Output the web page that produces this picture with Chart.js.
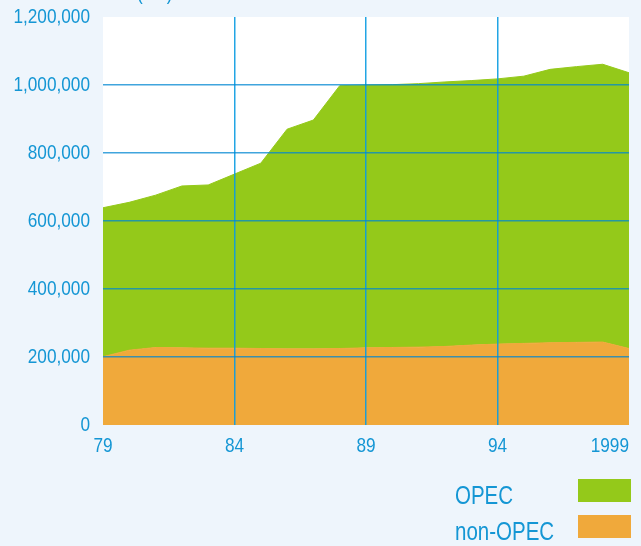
<!DOCTYPE html>
<html><head><meta charset="utf-8">
<script src="https://cdn.jsdelivr.net/npm/chart.js@4/dist/chart.umd.min.js"></script>
<style>
html,body{margin:0;padding:0;background:#EEF5FC;}
#wrap{position:relative;width:641px;height:546px;overflow:hidden;}
canvas{position:absolute;left:0;top:0;}
.txt{position:absolute;white-space:nowrap;color:#1496d4;font-family:'Liberation Sans',Arial,sans-serif;line-height:1;transform:scaleX(0.82);transform-origin:0 0;}
.box{position:absolute;width:53px;height:23px;}
</style>
</head><body>
<div id="wrap">
<canvas id="c" width="641" height="546"></canvas>
<div class="txt" id="unit" style="left:137px;top:-18px;font-size:21px;">(b/d)</div>
<div id="legend"></div>
</div>
<script>
// ---- data ----
const categories = [1979,1980,1981,1982,1983,1984,1985,1986,1987,1988,1989,1990,1991,1992,1993,1994,1995,1996,1997,1998,1999];
const xTickLabels = ['79','84','89','94','1999'];
const nonOpec = [201000,220000,228000,227000,226000,226000,225000,224000,224000,225000,227000,228000,229000,231000,235000,238000,240000,242000,243000,244000,225000];
const opec = [438000,435000,448000,476000,480000,512000,545000,646000,673000,773000,773000,773000,775000,778000,778000,780000,786000,804000,811000,817000,811000];
const seriesNames = ['non-OPEC','OPEC'];
const yTicks = [0,200000,400000,600000,800000,1000000,1200000];

const BLUE = '#1496d4';
const GREEN = '#94C91A';
const ORANGE = '#F0A93B';
const FONT = {family:"'Liberation Sans',Arial,sans-serif", size:21};
const NARROW = 0.82;

const plotBg = {
  id:'plotBg',
  beforeDraw(chart){
    const a = chart.chartArea, ctx = chart.ctx;
    ctx.save(); ctx.fillStyle='#ffffff';
    ctx.fillRect(a.left,a.top,a.right-a.left,a.bottom-a.top);
    ctx.restore();
    const items = chart.scales.x.getLabelItems();
    if (items && items.length) items[0].options.textAlign = 'center';
  }
};

// condensed text rendering (the original uses a narrow face)
const canvas = document.getElementById('c');
const c2d = canvas.getContext('2d');
const origFill = c2d.fillText;
c2d.fillText = function(text, x, y, maxWidth){
  this.save();
  this.translate(x, y);
  this.scale(NARROW, 1);
  origFill.call(this, text, 0, 0);
  this.restore();
};

const chart = new Chart(canvas, {
  type:'line',
  data:{
    labels: categories,
    datasets:[
      {label:seriesNames[0], data:nonOpec, backgroundColor:ORANGE, borderColor:ORANGE, borderWidth:1, fill:'origin', pointRadius:0, tension:0},
      {label:seriesNames[1], data:opec, backgroundColor:GREEN, borderColor:GREEN, borderWidth:1, fill:'-1', pointRadius:0, tension:0}
    ]
  },
  options:{
    responsive:false, animation:false,
    layout:{padding:{left:0,right:12,top:17,bottom:0}},
    plugins:{legend:{display:false}, tooltip:{enabled:false}},
    scales:{
      x:{
        type:'category', offset:false,
        border:{display:false},
        grid:{z:1, drawTicks:false, lineWidth:1.5,
          color:(c)=> (c.index%5===0 && c.index>0 && c.index<categories.length-1) ? 'rgba(10,155,225,0.9)' : 'rgba(0,0,0,0)'},
        ticks:{autoSkip:false, maxRotation:0, minRotation:0, align:'inner', padding:9, color:BLUE, font:FONT,
          callback:(v,i)=> i%5===0 ? xTickLabels[i/5] : ''},
        afterFit:(s)=>{ s.height = 121; s.paddingLeft = 0; s.paddingRight = 0; }
      },
      y:{
        stacked:true, min:0, max:1200000,
        border:{display:false},
        afterBuildTicks:(s)=>{ s.ticks = yTicks.map(v=>({value:v})); },
        grid:{z:1, drawTicks:false, lineWidth:1.5,
          color:(c)=> (c.tick && c.tick.value>0 && c.tick.value<1200000) ? 'rgba(0,135,210,0.75)' : 'rgba(0,0,0,0)'},
        ticks:{padding:13, color:BLUE, font:FONT, callback:(v)=> Number(v).toLocaleString('en-US')},
        afterFit:(s)=>{ s.width = 103; s.paddingTop = 0; s.paddingBottom = 0; }
      }
    }
  },
  plugins:[plotBg]
});

// legend (OPEC first, then non-OPEC), built from the chart's datasets
const lg = document.getElementById('legend');
const rows = [chart.data.datasets[1], chart.data.datasets[0]];
const rowTops = [479, 515];
rows.forEach((ds,i)=>{
  const t = document.createElement('div');
  t.className='txt'; t.textContent = ds.label;
  t.style.left='455px'; t.style.fontSize='25px'; t.style.top=(rowTops[i]+4)+'px';
  lg.appendChild(t);
  const b = document.createElement('div');
  b.className='box'; b.style.left='578px'; b.style.top=rowTops[i]+'px'; b.style.background=ds.backgroundColor;
  lg.appendChild(b);
});
</script>
</body></html>
